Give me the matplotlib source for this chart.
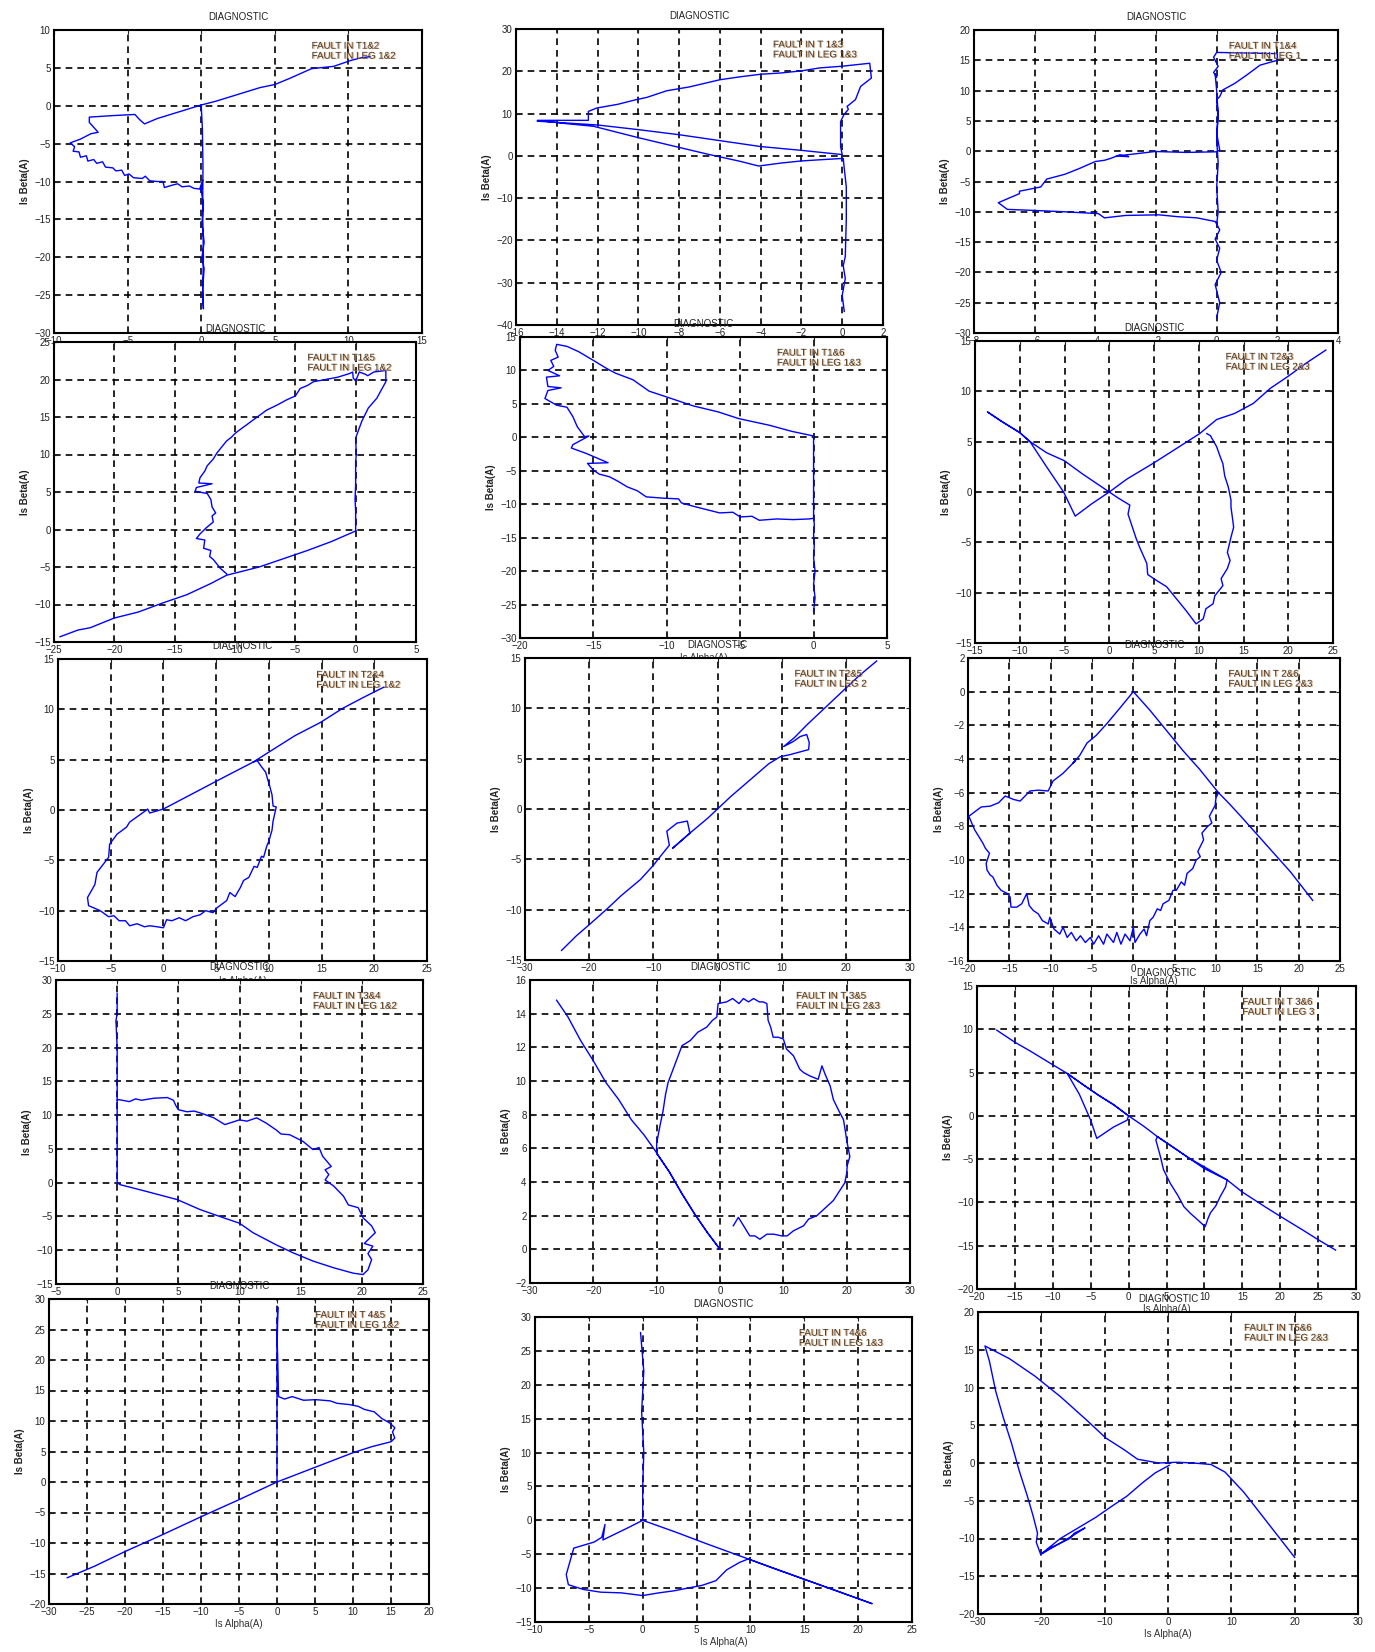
import numpy as np
import matplotlib
matplotlib.use('Agg')
import matplotlib.pyplot as plt
import matplotlib.patheffects as pe

plt.rcParams['font.family'] = ['Liberation Sans', 'DejaVu Sans']

# ---------------- data (Is Alpha, Is Beta) ----------------
p1 = np.array([(11.5,6.5),(10.8,6.3),(10.2,6.0),(9.0,5.2),(7.5,4.9),(6.0,3.6),(5.0,2.8),(4.0,2.4),(3.0,1.8),(2.0,1.2),(1.0,0.6),(0.0,0.1),(-1.5,-0.8),(-3.0,-1.7),(-3.85,-2.4),(-4.2,-1.8),(-4.5,-1.15),(-5.0,-1.2),(-6.0,-1.3),(-7.6,-1.5),(-7.6,-2.2),(-7.0,-3.5),(-7.5,-3.7),(-8.2,-4.4),(-8.9,-4.9),(-8.6,-5.4),(-8.7,-6.0),(-8.3,-6.1),(-8.2,-6.8),(-7.8,-6.6),(-7.7,-7.3),(-7.3,-7.1),(-7.1,-7.6),(-6.7,-7.4),(-6.5,-8.1),(-6.0,-8.2),(-5.8,-8.6),(-5.4,-8.5),(-5.2,-9.2),(-4.9,-9.0),(-4.6,-9.5),(-4.0,-9.6),(-3.8,-9.3),(-3.5,-9.9),(-3.0,-10.0),(-2.6,-10.0),(-2.5,-10.8),(-2.0,-10.5),(-1.6,-10.3),(-1.3,-10.7),(-0.8,-10.6),(-0.5,-10.9),(-0.1,-11.0),(0.1,-9.8),(0.0,-11.2),(0.15,-13.0),(0.05,-15.5),(0.2,-18.0),(0.05,-20.0),(0.2,-21.5),(0.1,-24.0),(0.15,-26.8),(0.1,-24.5),(0.15,-20),(0.1,-14),(0.12,-8),(0.08,-3),(0.0,0.1)])
p2 = np.array([(0.1,-36.8),(0.0,-33),(0.15,-29),(0.05,-26),(0.15,-23.8),(0.2,-15),(0.2,-7.3),(0.1,-3),(0.05,-0.6),(-1.0,-0.9),(-2.0,-1.2),(-3.0,-1.7),(-4.1,-2.4),(-5.0,-1.3),(-6.6,0.4),(-8.0,2.0),(-10.0,4.3),(-12.2,7.0),(-13.5,7.6),(-14.95,8.4),(-13.0,8.4),(-12.45,8.4),(-12.45,10.5),(-12.05,11.3),(-11.0,12.2),(-10.1,13.3),(-9.6,13.8),(-8.6,15.4),(-7.5,16.3),(-6.0,18.0),(-5.0,18.7),(-4.0,19.3),(-3.0,19.6),(-2.0,20.1),(-1.1,20.8),(0.0,21.2),(1.35,21.9),(1.43,18.4),(0.9,16.4),(0.65,13.3),(0.24,11.7),(0.3,11.0),(0.08,9.7),(-0.08,8.1),(-0.08,2.2),(0.0,0.3),(-1.0,0.8),(-2.0,1.3),(-4.0,2.2),(-6.0,3.6),(-8.0,5.0),(-10.0,6.2),(-12.0,7.3),(-14.95,8.2)])
p3 = np.array([(0.0,-27.5),(0.1,-25),(-0.05,-22),(0.15,-20),(0.0,-18),(0.1,-16),(-0.05,-14.5),(0.1,-13),(0.0,-12),(-0.05,-11.6),(-0.65,-11.0),(-1.3,-10.8),(-1.9,-10.5),(-3.0,-10.6),(-3.7,-11.0),(-3.9,-10.3),(-5.0,-10.0),(-5.9,-9.8),(-6.9,-9.6),(-7.2,-8.5),(-6.5,-7.0),(-6.5,-6.6),(-5.8,-5.9),(-5.6,-4.6),(-5.0,-3.8),(-4.5,-2.8),(-4.0,-1.7),(-3.7,-1.5),(-3.5,-1.2),(-3.2,-0.6),(-2.9,-0.9),(-3.3,-0.8),(-2.03,-0.05),(-1.0,-0.2),(0.0,-0.1),(0.1,0.2),(0.0,3),(0.05,6),(0.0,8.5),(0.1,9.0),(0.2,10.1),(0.6,11.2),(1.0,12.6),(1.43,14.2),(2.0,15.0),(2.0,16.1),(1.0,16.2),(0.0,16.3),(-0.1,15.5),(0.05,14),(-0.1,13),(0.0,12.2),(-0.05,12.8),(0.0,10),(0.05,6),(0.0,2),(0.05,-2),(0.0,-6),(0.05,-10),(0.0,-12)])
p4 = np.array([(-24.5,-14.3),(-23,-13.4),(-22,-13.1),(-20,-11.8),(-18,-11.0),(-16,-9.8),(-14,-8.7),(-12,-7.2),(-10.7,-6.1),(-8,-5.0),(-6,-3.9),(-4,-2.8),(-2,-1.6),(0,-0.2),(0,2),(0,2.5),(-0.05,4),(0,6),(0,9),(0.05,10),(0,12.2),(0.5,14.4),(1.05,16.2),(1.75,17.5),(2.5,19.7),(2.5,21.2),(1.5,21.0),(1.0,20.5),(0.8,20.7),(0.3,21.0),(0.0,19.8),(-0.2,20.2),(-0.25,21.0),(-0.5,20.8),(-1.5,20.3),(-2.5,20.0),(-3.5,19.7),(-4.0,19.2),(-4.6,18.8),(-5.0,17.8),(-5.7,17.3),(-6.5,16.6),(-7.4,15.9),(-7.9,15.3),(-8.5,14.6),(-9.0,14.0),(-9.6,13.3),(-10.0,12.8),(-10.3,12.3),(-10.7,11.8),(-11.0,11.2),(-11.5,10.2),(-11.8,9.4),(-12.3,8.5),(-12.5,7.8),(-12.9,6.9),(-13.0,6.2),(-11.9,6.1),(-13.2,5.6),(-13.3,5.1),(-12.3,4.8),(-12.0,4.0),(-11.9,3.0),(-11.6,2.2),(-11.9,1.8),(-11.8,1.0),(-12.4,0.2),(-12.9,-0.6),(-13.2,-1.2),(-12.5,-1.4),(-12.6,-2.5),(-12.0,-2.8),(-12.1,-3.6),(-11.8,-4.0),(-11.5,-4.6),(-11.2,-5.2),(-10.7,-5.9)])
p5 = np.array([(0,-26),(0.1,-24),(0.0,-22),(0.1,-20),(0.0,-18),(0.05,-16),(0.0,-14.5),(0.05,-13),(0,-12.1),(-0.3,-12.2),(-1.4,-12.3),(-2.5,-12.2),(-3.7,-12.4),(-4.2,-11.8),(-5.0,-11.9),(-5.5,-11.2),(-6.4,-11.3),(-7.3,-10.8),(-8.2,-10.3),(-9.0,-9.8),(-9.2,-9.2),(-10.2,-9.1),(-11.4,-8.9),(-12.0,-8.0),(-12.7,-7.4),(-13.3,-6.6),(-13.9,-5.9),(-14.6,-5.5),(-15.0,-4.9),(-15.4,-3.9),(-14.0,-3.8),(-15.5,-2.4),(-16.5,-1.6),(-16.4,-1.1),(-15.3,0.2),(-15.6,0.1),(-16.1,1.6),(-16.4,3.1),(-16.8,4.5),(-17.5,4.8),(-18.3,5.8),(-18.1,7.0),(-17.2,7.4),(-18.1,7.6),(-18.2,9.0),(-17.3,9.2),(-18.1,10.0),(-17.7,10.6),(-17.9,11.5),(-17.4,12.0),(-17.6,13.0),(-17.5,13.9),(-16.8,13.6),(-16.0,12.8),(-15.0,11.5),(-14.1,10.3),(-13.5,9.6),(-12.3,8.6),(-11.2,6.9),(-10.1,6.1),(-8.2,4.7),(-6.5,3.8),(-5.1,2.8),(-3,1.8),(-1.5,0.9),(0,0.2),(0,-5),(0,-12)])
p6 = np.array([(24.2,14.1),(22,12.8),(20,11.5),(18,10.3),(16.1,8.8),(14,7.8),(12,7.2),(10.1,5.8),(8,4.6),(5,2.9),(2,1.3),(0,0),(-2,-1.2),(-3.8,-2.4),(-5.1,0.0),(-7.0,2.5),(-8.85,5.0),(-10,5.9),(-12,7.0),(-13.6,7.95),(-12,7.0),(-10,5.9),(-8.85,5.0),(-7,3.9),(-5,3.1),(-3,1.8),(-1.5,0.9),(0,0),(1.0,-0.6),(2.3,-1.3),(2.1,-2.2),(2.7,-3.8),(3.0,-4.6),(3.4,-5.5),(4.2,-7.1),(4.3,-8.2),(5.3,-8.8),(6.4,-9.4),(7.5,-10.6),(8.6,-11.8),(9.7,-13.1),(10.5,-12.6),(10.8,-11.6),(11.6,-11.1),(11.8,-10.3),(12.7,-9.3),(12.5,-8.6),(13.2,-7.6),(13.5,-6.8),(13.2,-6.0),(13.6,-4.5),(13.9,-3.5),(13.8,-2.8),(13.6,-1.5),(13.6,-0.8),(13.3,0.5),(12.9,1.6),(12.7,2.8),(12.4,3.5),(12.0,4.5),(11.3,5.6),(10.9,5.8)])
p7 = np.array([(20.9,12.2),(19,11.2),(17,10.1),(14.9,8.7),(12.5,7.4),(10,5.75),(8.5,4.75),(6,3.4),(4,2.3),(2,1.2),(0,0.1),(-1.3,-0.3),(-1.5,0.1),(-1.6,0.0),(-3.2,-1.2),(-3.5,-1.7),(-4.4,-2.4),(-5.1,-3.4),(-5.2,-4.7),(-6.3,-6.2),(-6.5,-7.4),(-7.2,-8.7),(-7.1,-9.5),(-6.0,-10.0),(-5.2,-10.6),(-4.7,-10.5),(-4.2,-11.0),(-3.6,-11.0),(-3.2,-11.5),(-2.5,-11.3),(-1.8,-11.6),(-1.3,-11.5),(-0.6,-11.6),(0,-11.7),(0.3,-10.9),(0.8,-11.0),(1.5,-10.7),(2.1,-11.0),(2.8,-10.6),(3.5,-10.4),(4.0,-10.0),(4.7,-10.2),(5.1,-9.7),(6.0,-9.0),(6.3,-8.2),(6.8,-8.6),(7.3,-7.7),(7.6,-7.0),(8.1,-6.7),(8.6,-5.6),(8.9,-5.7),(9.3,-4.6),(9.5,-4.7),(9.8,-3.6),(10.0,-3.1),(10.3,-2.0),(10.4,-1.1),(10.7,0.3),(10.4,0.4),(10.3,1.5),(10.1,2.3),(9.9,3.0),(9.7,3.75),(9.3,4.3),(8.9,4.9),(8.5,4.75)])
p8 = np.array([(-24.3,-14.05),(-22,-12.6),(-20,-11.5),(-17,-9.8),(-15,-8.6),(-12,-7.0),(-10,-5.6),(-8.9,-4.7),(-7.5,-3.6),(-7.9,-2.2),(-6.3,-1.4),(-4.7,-1.2),(-4.3,-2.4),(-7.0,-3.9),(-4.3,-2.4),(-3,-1.7),(-1.5,-0.9),(0,0),(2,1.2),(4,2.3),(6,3.4),(8,4.5),(9.8,5.2),(11.3,5.4),(14.2,5.9),(14.3,6.6),(13.9,7.4),(12.9,7.2),(11.8,6.7),(10.3,6.2),(12,7.1),(14,8.4),(16,9.6),(18,10.8),(20,12.0),(22,13.2),(24.8,14.7)])
p9 = np.array([(21.7,-12.4),(19,-10.7),(17,-9.6),(15,-8.5),(13,-7.4),(11.5,-6.6),(10.3,-6.0),(8,-4.6),(6,-3.5),(4,-2.3),(2,-1.1),(0,0),(-1.5,-0.9),(-3.2,-1.9),(-4.5,-2.6),(-5.6,-3.05),(-6.5,-3.8),(-7.3,-4.25),(-7.0,-4.1),(-8.5,-4.85),(-9.7,-5.3),(-10.3,-5.9),(-11.5,-5.85),(-12.5,-5.9),(-13.7,-6.5),(-14.5,-6.4),(-15.5,-6.2),(-16.3,-6.6),(-17.3,-6.8),(-18.4,-6.85),(-19.9,-7.4),(-19.2,-8.2),(-18.2,-9.0),(-17.9,-9.3),(-17.4,-9.6),(-17.8,-10.2),(-17.7,-10.6),(-17.3,-10.9),(-17.0,-11.0),(-16.5,-11.5),(-16.0,-11.8),(-15.2,-12.0),(-14.9,-12.2),(-14.8,-12.8),(-14.1,-12.8),(-13.5,-12.6),(-12.9,-12.0),(-12.6,-12.7),(-12.1,-13.0),(-11.5,-13.2),(-11.0,-13.6),(-10.3,-13.8),(-10.1,-13.4),(-9.6,-14.1),(-8.9,-14.4),(-8.5,-14.0),(-8.0,-14.6),(-7.5,-14.3),(-6.9,-14.8),(-6.4,-14.5),(-5.8,-14.9),(-5.2,-14.6),(-4.8,-15.0),(-4.2,-14.5),(-3.6,-15.0),(-3.2,-14.4),(-2.4,-14.9),(-2.0,-14.3),(-1.5,-15.0),(-1.0,-14.4),(-0.4,-14.8),(0.0,-14.0),(0.2,-14.9),(0.8,-14.4),(1.3,-14.1),(1.6,-14.5),(2.0,-13.6),(2.4,-13.4),(2.9,-12.9),(3.3,-13.0),(3.6,-12.6),(4.3,-12.4),(4.8,-11.8),(5.2,-11.8),(5.8,-11.3),(6.2,-11.5),(6.5,-10.8),(7.2,-10.5),(7.6,-10.0),(8.1,-9.8),(7.8,-9.5),(8.5,-8.8),(8.3,-8.4),(9.0,-8.0),(9.5,-7.8),(9.2,-7.4),(9.9,-6.75),(10.0,-6.3),(10.3,-6.0)])
p10 = np.array([(0,28),(0,25),(-0.1,24),(0,20),(0,15),(0,12.2),(0.1,12.3),(1.0,12.0),(1.5,12.4),(2.0,12.2),(3.0,12.5),(4.1,12.6),(4.6,12.2),(4.8,11.4),(5.0,10.8),(5.7,10.5),(6.3,10.6),(7.0,10.2),(7.9,9.6),(8.8,8.6),(9.5,9.0),(10.0,9.3),(10.6,9.1),(11.4,9.6),(12.2,8.8),(13.0,7.8),(13.4,7.2),(14.1,7.1),(15.2,6.1),(16.0,4.9),(16.5,5.2),(16.8,3.9),(17.5,2.4),(17.0,1.9),(17.3,1.2),(17.0,0.4),(17.7,-0.5),(18.5,-2.0),(18.9,-3.3),(19.7,-3.7),(20.1,-5.2),(20.8,-6.4),(21.1,-7.4),(20.2,-9.0),(20.9,-9.4),(20.5,-10.5),(20.8,-11.4),(20.5,-12.9),(20.1,-13.6),(19.3,-13.4),(17.7,-12.6),(16.0,-11.6),(14.4,-10.4),(13.0,-9.2),(11.1,-7.4),(10.0,-6.0),(8.7,-5.2),(6.8,-4.0),(4.9,-2.5),(2.4,-1.3),(0.25,-0.3),(0,0),(0,5),(0,12.2)])
p11 = np.array([(-25.8,14.8),(-24,13.8),(-22,12.4),(-20,11.2),(-18,9.9),(-16,8.9),(-14,7.7),(-12,6.8),(-10.3,5.9),(-8,4.6),(-6,3.3),(-4,2.1),(-2,1.0),(0,0.0),(-2,1.0),(-4,2.1),(-6,3.3),(-8,4.6),(-10.0,5.7),(-10.0,6.3),(-9.5,7.3),(-9.0,8.2),(-8.6,9.2),(-8.2,9.9),(-7.6,10.5),(-6.8,11.3),(-6.0,12.1),(-4.7,12.4),(-3.5,12.9),(-2.1,13.2),(-1.2,13.6),(-0.5,13.8),(-0.3,14.6),(1.05,14.7),(2.0,14.9),(3.0,14.6),(3.7,14.9),(4.5,14.7),(5.3,14.9),(6.2,14.7),(6.8,14.7),(7.4,14.6),(7.6,13.6),(8.0,13.2),(8.4,12.6),(9.2,12.6),(10,12.5),(10.5,11.9),(11.6,11.5),(12.6,10.7),(13.2,10.5),(14.2,10.3),(15.5,10.1),(16.1,10.9),(16.6,10.4),(17.4,9.7),(17.9,8.9),(18.8,8.2),(19.5,7.7),(19.8,7.0),(20.0,6.5),(20.5,5.5),(20.1,5.0),(20.0,4.5),(19.7,3.95),(17.9,2.9),(15.3,2.0),(14.0,1.8),(13.2,1.4),(11.6,1.1),(10.6,0.8),(9.7,0.8),(8.5,0.9),(7.4,0.9),(6.3,0.6),(5.5,0.8),(4.7,0.8),(3.4,1.6),(2.9,1.9),(2.1,1.4)])
p12 = np.array([(-17.4,9.9),(-15,8.5),(-13,7.5),(-10,5.9),(-8.1,4.9),(-6,3.6),(-4,2.4),(-2,1.3),(0,0),(-0.2,-0.5),(-2,-1.3),(-4.2,-2.6),(-5.0,-0.5),(-6.5,2.5),(-8.1,4.9),(-6,3.6),(-4,2.4),(-2,1.3),(0,0),(2,-1.2),(3.8,-2.4),(3.6,-2.8),(4.2,-4.7),(4.6,-6.2),(5.5,-7.8),(6.5,-9.2),(7.3,-10.5),(8.2,-11.3),(9.1,-12.0),(10.1,-12.8),(10.5,-11.8),(10.8,-11.2),(11.5,-10.4),(12.1,-9.3),(12.8,-8.2),(13,-7.4),(11,-6.4),(8,-4.9),(6,-3.7),(3.8,-2.4),(6,-3.7),(8,-4.9),(10,-6.1),(13,-7.4),(15,-8.8),(18,-10.5),(20,-11.6),(23,-13.2),(25,-14.3),(27.3,-15.5)])
p13 = np.array([(-27.6,-15.7),(-24,-13.8),(-20,-11.4),(-15,-8.6),(-10,-5.7),(-5,-2.9),(0,0),(5,2.4),(10,4.8),(12.5,5.8),(15,6.6),(15.5,7.2),(15.2,8.2),(15.5,8.9),(14.8,9.7),(13.8,10.4),(12.8,11.5),(11.5,11.9),(10.7,12.4),(9.5,12.7),(7.9,12.9),(7.0,13.3),(5.1,13.5),(3.5,13.4),(2.0,14.0),(1.0,13.6),(0.2,14.0),(0.1,20),(0,24),(0.1,28.7),(0,20),(0,10),(0,0)])
p14 = np.array([(-0.2,27.7),(0.1,22),(-0.1,16),(0.1,10),(0,5),(0,0),(-1.5,-1.2),(-3.7,-2.9),(-3.5,-0.6),(-3.8,-2.5),(-4.5,-3.2),(-6.4,-4.1),(-7.1,-8.0),(-6.9,-9.5),(-5.5,-10.2),(-3.9,-10.6),(-2,-10.7),(0,-11.1),(1.5,-10.7),(2.9,-10.4),(4.5,-9.9),(5.5,-9.6),(6.8,-8.9),(7.8,-7.3),(9.0,-6.2),(9.8,-5.7),(12,-7.0),(15,-8.7),(18,-10.4),(21.3,-12.3),(15,-8.7),(9.8,-5.7),(6,-3.5),(3,-1.7),(0,0)])
p15 = np.array([(20,-12.5),(16,-8.2),(12,-3.9),(9,-1.2),(6.8,-0.2),(4,0.0),(1.5,0.1),(-1.5,0.0),(-4.8,0.5),(-7,1.8),(-9.8,3.3),(-13,5.8),(-17,8.8),(-21,11.5),(-25,13.8),(-28.9,15.5),(-28.2,13.5),(-27.2,9.5),(-26.0,6.0),(-24.7,2.6),(-23.5,-1.0),(-22.2,-4.4),(-21.3,-7.0),(-20.6,-9.3),(-20.8,-10.5),(-20.1,-12.1),(-18.5,-11.2),(-17.2,-10.7),(-15.5,-10.0),(-14.8,-9.3),(-13.1,-8.6),(-14.8,-9.5),(-17.2,-10.7),(-20.1,-12.1),(-17,-10.0),(-14,-8.5),(-11.4,-7.2),(-9.0,-5.8),(-6.5,-4.4),(-4,-2.6),(-2,-1.3),(0.2,-0.3)])

curves = [p1, p2, p3, p4, p5, p6, p7, p8, p9, p10, p11, p12, p13, p14, p15]

fault_t = ['T1&2', 'T 1&3', 'T1&4', 'T1&5', 'T1&6', 'T2&3', 'T2&4', 'T2&5', 'T 2&6',
           'T3&4', 'T 3&5', 'T 3&6', 'T 4&5', 'T4&6', 'T5&6']
fault_leg = ['1&2', '1&3', '1', '1&2', '1&3', '2&3', '1&2', '2', '2&3',
             '1&2', '2&3', '3', '1&2', '1&3', '2&3']

xticks = [[-10,-5,0,5,10,15], [-16,-14,-12,-10,-8,-6,-4,-2,0,2], [-8,-6,-4,-2,0,2,4],
          [-25,-20,-15,-10,-5,0,5], [-20,-15,-10,-5,0,5], [-15,-10,-5,0,5,10,15,20,25],
          [-10,-5,0,5,10,15,20,25], [-30,-20,-10,0,10,20,30], [-20,-15,-10,-5,0,5,10,15,20,25],
          [-5,0,5,10,15,20,25], [-30,-20,-10,0,10,20,30], [-20,-15,-10,-5,0,5,10,15,20,25,30],
          [-30,-25,-20,-15,-10,-5,0,5,10,15,20], [-10,-5,0,5,10,15,20,25], [-30,-20,-10,0,10,20,30]]
yticks = [[-30,-25,-20,-15,-10,-5,0,5,10], [-40,-30,-20,-10,0,10,20,30], [-30,-25,-20,-15,-10,-5,0,5,10,15,20],
          [-15,-10,-5,0,5,10,15,20,25], [-30,-25,-20,-15,-10,-5,0,5,10,15], [-15,-10,-5,0,5,10,15],
          [-15,-10,-5,0,5,10,15], [-15,-10,-5,0,5,10,15], [-16,-14,-12,-10,-8,-6,-4,-2,0,2],
          [-15,-10,-5,0,5,10,15,20,25,30], [-2,0,2,4,6,8,10,12,14,16], [-20,-15,-10,-5,0,5,10,15],
          [-20,-15,-10,-5,0,5,10,15,20,25,30], [-15,-10,-5,0,5,10,15,20,25,30], [-20,-15,-10,-5,0,5,10,15,20]]

# ---------------- layout (pixel boxes: left, top, right, bottom) ----------------
W, H = 1375, 1652
boxes = [(54,30,422,333), (516,29,883,325), (974,30,1338,333),
         (54,342,416,642), (520,337,887,638), (975,341,1333,643),
         (58,659,427,961), (525,658,910,960), (968,658,1340,961),
         (56,980,423,1284), (530,980,910,1283), (977,986,1356,1289),
         (49,1299,429,1604), (535,1317,912,1622), (978,1312,1358,1614)]
show_xlabel = [False, False, False, False, True, True, True, False, True,
               False, False, True, True, True, True]

fig = plt.figure(figsize=(W/100, H/100), dpi=100)
fs = 7
shadow = [pe.SimplePatchShadow(offset=(0.8, -0.3), shadow_rgbFace='#f0a050', alpha=0.9), pe.Normal()]

for i in range(15):
    l, t, r, b = boxes[i]
    ax = fig.add_axes([l/W, 1 - b/H, (r-l)/W, (b-t)/H])
    d = curves[i]
    ax.plot(d[:, 0], d[:, 1], color='#0000ff', lw=1.0, zorder=3)
    ax.set_xlim(xticks[i][0], xticks[i][-1])
    ax.set_ylim(yticks[i][0], yticks[i][-1])
    ax.set_xticks(xticks[i])
    ax.set_yticks(yticks[i])
    ax.grid(True, color='k', linestyle=(0, (4, 3)), linewidth=1.2)
    ax.set_axisbelow(True)
    ax.tick_params(direction='in', top=True, right=True, length=3, width=0.8,
                   labelsize=fs, pad=2.5, colors='#222222')
    for s in ax.spines.values():
        s.set_linewidth(1.5)
    ax.set_title('DIAGNOSTIC', fontsize=fs, pad=7, color='#222222')
    ax.set_ylabel('Is Beta(A)', fontsize=fs, fontweight='bold', labelpad=3, color='#222222')
    if show_xlabel[i]:
        ax.set_xlabel('Is Alpha(A)', fontsize=fs, labelpad=1, color='#333333')
    ax.text(0.70, 0.965, 'FAULT IN ' + fault_t[i] + '\nFAULT IN LEG ' + fault_leg[i],
            transform=ax.transAxes, ha='left', va='top', fontsize=fs,
            linespacing=1.0, color='#333333', path_effects=shadow, zorder=5)

fig.savefig('out.png', dpi=100)
